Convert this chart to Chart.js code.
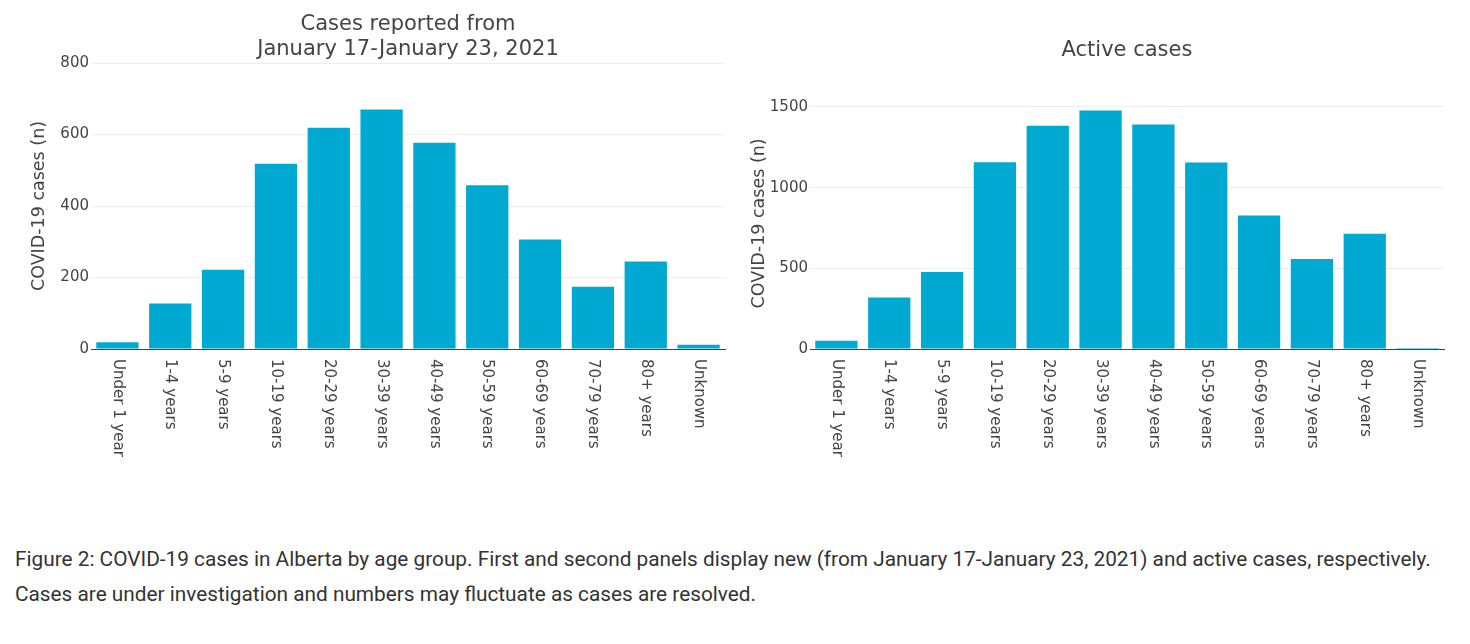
<!DOCTYPE html>
<html>
<head>
<meta charset="utf-8">
<script src="https://cdn.jsdelivr.net/npm/chart.js@4"></script>
<style>
  body { margin: 0; background: #fff; width: 1470px; height: 644px; position: relative; overflow: hidden; }
  #weekWrap { position: absolute; left: 0; top: 0; width: 730px; height: 480px; }
  #activeWrap { position: absolute; left: 730px; top: 0; width: 740px; height: 480px; }
  #caption {
    position: absolute; left: 15px; top: 542px; width: 1455px; white-space: nowrap;
    font-family: Roboto, sans-serif; font-size: 20.8px; line-height: 35px; color: #333;
  }
</style>
</head>
<body>
<div id="weekWrap"><canvas id="weekChart" width="730" height="480"></canvas></div>
<div id="activeWrap"><canvas id="activeChart" width="740" height="480"></canvas></div>
<div id="caption">Figure 2: COVID-19 cases in Alberta by age group. First and second panels display new (from January 17-January 23, 2021) and active cases, respectively.<br>Cases are under investigation and numbers may fluctuate as cases are resolved.</div>
<script>
var ageGroups = ['Under 1 year', '1-4 years', '5-9 years', '10-19 years', '20-29 years', '30-39 years',
                 '40-49 years', '50-59 years', '60-69 years', '70-79 years', '80+ years', 'Unknown'];
var weekCases = [19, 127, 222, 518, 619, 670, 577, 458, 306, 174, 245, 12];
var activeCases = [51, 319, 478, 1158, 1384, 1479, 1391, 1156, 828, 558, 715, 6];
var weekTicks = [0, 200, 400, 600, 800];
var activeTicks = [0, 500, 1000, 1500];

var barColor = '#00a9d1';
var textColor = '#444';
var plotFont = '"DejaVu Sans", Verdana, sans-serif';

// x labels read top-to-bottom, so draw them ourselves at the scale's tick positions
var downLabels = {
    id: 'downLabels',
    afterDraw: function(chart) {
        var ctx = chart.ctx;
        var xs = chart.scales.x;
        ctx.save();
        ctx.font = '15px ' + plotFont;
        ctx.fillStyle = textColor;
        ctx.textAlign = 'left';
        ctx.textBaseline = 'middle';
        chart.data.labels.forEach(function(lab, i) {
            ctx.save();
            ctx.translate(xs.getPixelForValue(i), xs.top + 10);
            ctx.rotate(Math.PI / 2);
            ctx.fillText(lab, 0, 0);
            ctx.restore();
        });
        ctx.restore();
    }
};

function makeChart(id, values, tickVals, yMax, title, titlePad, yWidth, yTitlePad, padRight) {
    var ctx = document.getElementById(id).getContext('2d');
    return new Chart(ctx, {
        type: 'bar',
        data: {
            labels: ageGroups,
            datasets: [{
                data: values,
                backgroundColor: barColor,
                borderWidth: 0,
                categoryPercentage: 1.0,
                barPercentage: 0.8
            }]
        },
        options: {
            responsive: false,
            animation: false,
            layout: { padding: { left: 0, right: padRight, top: 0, bottom: 0 } },
            plugins: {
                legend: { display: false },
                tooltip: { enabled: false },
                title: {
                    display: true,
                    fullSize: false,
                    text: title,
                    color: textColor,
                    font: { family: plotFont, size: 21, weight: 'normal', lineHeight: '25px' },
                    padding: titlePad
                }
            },
            scales: {
                x: {
                    grid: { display: false },
                    border: { display: true, color: '#444', width: 1 },
                    ticks: { display: false },
                    afterFit: function(s) { s.height = 131; }
                },
                y: {
                    min: 0,
                    max: yMax,
                    afterBuildTicks: function(s) {
                        s.ticks = tickVals.map(function(v) { return { value: v }; });
                    },
                    grid: { color: '#eeeeee', drawTicks: false },
                    border: { display: false },
                    ticks: {
                        color: textColor,
                        padding: 2,
                        font: { family: plotFont, size: 15 },
                        callback: function(v) { return String(v); }
                    },
                    title: {
                        display: true,
                        text: 'COVID-19 cases (n)',
                        color: textColor,
                        font: { family: plotFont, size: 17.5, lineHeight: '20px' },
                        padding: { top: yTitlePad, bottom: 0 }
                    },
                    afterFit: function(s) { s.width = yWidth; }
                }
            }
        },
        plugins: [downLabels]
    });
}

makeChart('weekChart', weekCases, weekTicks, 800,
    ['Cases reported from', 'January 17-January 23, 2021'],
    { top: 12, bottom: 1 }, 91, 29, 5);

makeChart('activeChart', activeCases, activeTicks, 1557,
    'Active cases',
    { top: 38, bottom: 34.8 }, 80, 19, 26);
</script>
</body>
</html>
